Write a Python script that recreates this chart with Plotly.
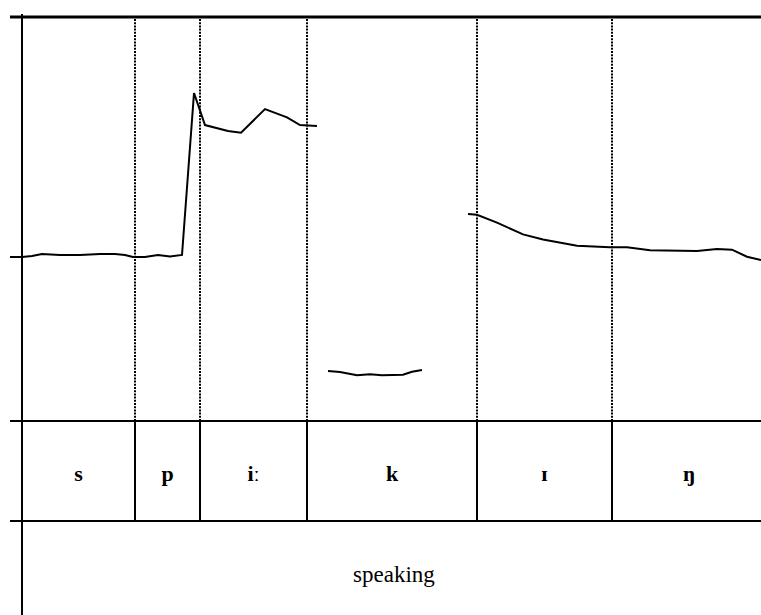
import plotly.graph_objects as go

# Pitch contour (time in s, F0 in Hz); None separates voiced stretches
pitch_t = [-0.012, 0.000, 0.010, 0.020, 0.038, 0.058, 0.078, 0.093, 0.103, 0.111, 0.123, 0.136, 0.148, 0.160,
           0.172, 0.183, 0.206, 0.219, 0.243, 0.265, 0.278, 0.295,
           None,
           0.306, 0.318, 0.335, 0.348, 0.360, 0.381, 0.390, 0.400,
           None,
           0.446, 0.455, 0.475, 0.501, 0.521, 0.555, 0.588, 0.605, 0.628, 0.655, 0.675, 0.695, 0.710, 0.725, 0.739]
pitch_hz = [181.2, 181.2, 181.7, 182.7, 182.2, 182.2, 182.7, 182.7, 182.2, 181.2, 181.2, 182.2, 181.4, 182.2,
            262.4, 246.5, 243.6, 242.7, 254.4, 250.3, 246.5, 246.0,
            None,
            124.8, 124.3, 122.6, 123.1, 122.6, 122.9, 124.4, 125.2,
            None,
            202.5, 202.1, 198.2, 192.4, 189.9, 186.8, 186.0, 186.0, 184.5, 184.5, 184.2, 185.1, 184.8, 181.3, 179.7]

# Phone tier
phone_bounds = [0.000, 0.113, 0.178, 0.285, 0.455, 0.590, 0.744]
phone_labels = ["s", "p", "iː", "k", "ɪ", "ŋ"]
# Word tier
word_bounds = [0.000, 0.744]
word_labels = ["speaking"]

X_MIN, X_MAX = -0.022, 0.739
X_LINE0 = -0.012
F0_MIN, F0_MAX = 100, 300
F0_TOP = 300 + 17 * 200 / 404  # axis top at page edge

fig = go.Figure()
fig.add_trace(go.Scatter(x=pitch_t, y=pitch_hz, mode="lines", connectgaps=False,
                         line=dict(color="black", width=2), hoverinfo="skip", showlegend=False))

# phone labels
mids = [(phone_bounds[i] + phone_bounds[i + 1]) / 2 for i in range(len(phone_labels))]
fig.add_trace(go.Scatter(x=mids, y=[0.54] * len(mids), yaxis="y2", mode="text",
                         text=["<b>%s</b>" % s for s in phone_labels],
                         textfont=dict(family="Liberation Serif", size=22, color="black"),
                         hoverinfo="skip", showlegend=False))
wmids = [(word_bounds[i] + word_bounds[i + 1]) / 2 for i in range(len(word_labels))]
fig.add_trace(go.Scatter(x=wmids, y=[1.55] * len(wmids), yaxis="y2", mode="text", text=word_labels,
                         textfont=dict(family="Liberation Serif", size=23, color="black"),
                         hoverinfo="skip", showlegend=False))

shapes = []
# top border
shapes.append(dict(type="line", xref="x", yref="y", x0=X_LINE0, x1=X_MAX, y0=F0_MAX, y1=F0_MAX,
                   line=dict(color="black", width=3)))
# dotted boundary lines in the pitch area
for b in phone_bounds[:-1]:
    shapes.append(dict(type="line", xref="x", yref="y", x0=b, x1=b, y0=F0_MIN, y1=F0_MAX,
                       line=dict(color="black", width=2, dash="2px,1.2px")))
# tier horizontal lines
for yv in [0, 1]:
    shapes.append(dict(type="line", xref="x", yref="y2", x0=X_LINE0, x1=X_MAX, y0=yv, y1=yv,
                       line=dict(color="black", width=2.2)))
# phone tier boundaries
for b in phone_bounds[1:-1]:
    shapes.append(dict(type="line", xref="x", yref="y2", x0=b, x1=b, y0=0, y1=1,
                       line=dict(color="black", width=2)))
# left vertical line
shapes.append(dict(type="line", xref="x", yref="y2", x0=0, x1=0, y0=1.94, y1=-4.07,
                   line=dict(color="black", width=2)))

fig.update_layout(
    width=761, height=615,
    margin=dict(l=0, r=0, t=0, b=0),
    paper_bgcolor="white", plot_bgcolor="rgba(0,0,0,0)",
    xaxis=dict(range=[X_MIN, X_MAX], visible=False, fixedrange=True),
    yaxis=dict(range=[F0_MIN, F0_TOP], domain=[1 - 421 / 615, 1], visible=False),
    yaxis2=dict(range=[1.94, -4.21], domain=[0, 1], visible=False, anchor="x"),
    shapes=shapes,
    showlegend=False,
)
fig.write_html("out.html")
